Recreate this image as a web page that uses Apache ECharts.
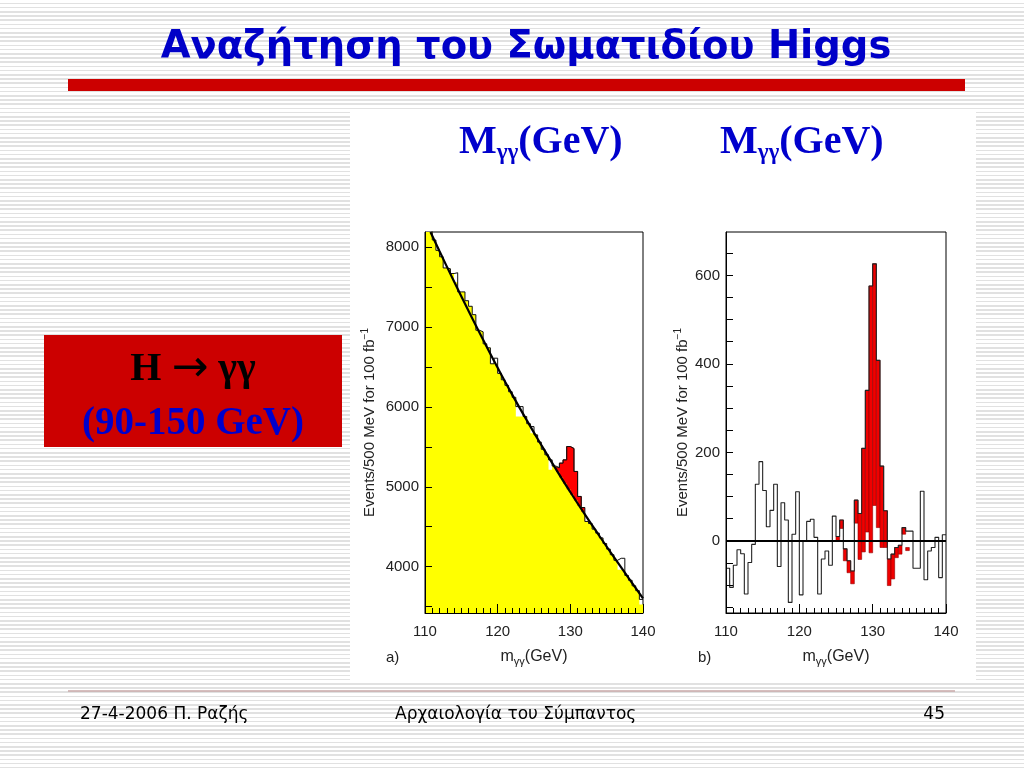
<!DOCTYPE html>
<html><head><meta charset="utf-8">
<script src="https://cdn.jsdelivr.net/npm/echarts@6/dist/echarts.min.js"></script>
<style>
html,body{margin:0;padding:0;width:1024px;height:768px;overflow:hidden;
background:repeating-linear-gradient(180deg,#ffffff 0px,#ffffff 2.7px,#e1e1e1 2.7px,#e1e1e1 4.2px);}
#panel{position:absolute;left:350px;top:110px;width:626px;height:570px;background:#fff;}
#c{position:absolute;left:0;top:0;width:1024px;height:768px;}
</style></head><body><div id="panel"></div><div id="c"></div>
<script>
// ---- shared binning (GeV) ----
const binStart = 110;
const binWidth = 0.5;
const xLabels = [110, 120, 130, 140];

// ---- panel a): diphoton mass spectrum, events / 500 MeV ----
const dataA = [8300, 8230, 8090, 7960, 7880, 7740, 7730, 7670, 7680, 7440,
               7440, 7330, 7260, 7155, 6960, 6940, 6790, 6740, 6540, 6610,
               6420, 6340, 6270, 6190, 6120, 6004, 6004, 5880, 5790, 5754,
               5650, 5560, 5470, 5400, 5337, 5260, 5240, 5296, 5337, 5504,
               5480, 5192, 4879, 4740, 4566, 4540, 4470, 4420, 4360, 4290,
               4220, 4150, 4080, 4105, 4105, 3890, 3830, 3760, 3700, 3590];
const bgA   = [8300, 8230, 8090, 7960, 7880, 7740, 7730, 7670, 7560, 7440,
               7440, 7330, 7260, 7155, 6960, 6940, 6790, 6740, 6540, 6540,
               6420, 6340, 6270, 6190, 6120, 5880, 5880, 5880, 5790, 5670,
               5650, 5560, 5470, 5400, 5212, 5260, 5188, 5115, 5042, 4970,
               4899, 4829, 4759, 4689, 4566, 4540, 4470, 4420, 4360, 4290,
               4220, 4150, 4080, 3960, 3960, 3890, 3830, 3760, 3700, 3525];
const signalFromA = 128.0;   // first bin of the red signal excess
const signalToA = 132.0;     // end of the red signal excess
const fitXA = [110.75, 112, 114, 116, 118, 120, 122, 124, 126, 128, 130, 132, 134, 136, 138, 140];
const fitYA = [8190, 7950, 7570, 7200, 6840, 6490, 6154, 5834, 5524, 5224, 4934, 4654, 4384, 4120, 3860, 3604];
const yTicksA = [3500, 4000, 4500, 5000, 5500, 6000, 6500, 7000, 7500, 8000];
const yLabelsA = [4000, 5000, 6000, 7000, 8000];

// ---- panel b): background-subtracted spectrum ----
const dataB = [-62, -105, -55, -20, -29, -120, -49, -8, 128, 179,
               114, 32, 69, 128, -58, 86, 47, -139, 15, 111,
               -122, 0, 44, 49, 8, -120, -41, -23, -55, 56,
               10, 47, -18, -45, -68, 92, 62, 209, 340, 576,
               626, 408, 169, 68, -41, -30, -15, -10, 30, 22,
               22, -62, -62, 112, -88, -23, -15, 8, -83, 14];
const redFromB = 125.0;
const redHighB = [10, 47, -18, -45, -68, 92, 62, 209, 340, 576, 626, 408, 169, 68, -41, -30, -15, -10, 30, -15];
const redLowB  = [0, 28, -45, -72, -97, 40, -42, -25, 20, -27, 80, 30, -15, -15, -101, -86, -38, -30, 15, -22];
const fitLevelB = 0;
const yTicksB = [-150, -100, -50, 0, 50, 100, 150, 200, 250, 300, 350, 400, 450, 500, 550, 600, 650];
const yLabelsB = [0, 200, 400, 600];

// ---- helpers: histogram as step polyline through bin edges ----
function steps(vals, start) {
  const pts = vals.map((v, i) => [start + i * binWidth, v]);
  pts.push([start + vals.length * binWidth, vals[vals.length - 1]]);
  return pts;
}
const sigValsA = dataA.filter((v, i) => {
  const x = binStart + i * binWidth; return x >= signalFromA && x < signalToA;
});
const redDataB = redHighB.map((h, i) => [redFromB + i * binWidth, redLowB[i], h]);

const FONT = 'Liberation Sans';
const txt = '#222';

function xAxisCfg(gi) {
  return {
    type: 'value', gridIndex: gi, min: 110, max: 140, interval: 10, z: 10,
    name: 'm{s|γγ}(GeV)', nameLocation: 'middle', nameGap: 34,
    nameTextStyle: { fontSize: 16, color: txt, fontFamily: FONT,
      rich: { s: { fontSize: 11, color: txt, fontFamily: FONT, padding: [9, 0, 0, 0] } } },
    axisLine: { show: true, onZero: false, lineStyle: { color: '#000', width: 1 } },
    axisTick: { show: true, inside: true, length: 9, lineStyle: { color: '#000' } },
    minorTick: { show: true, splitNumber: 10, length: 5, lineStyle: { color: '#000' } },
    splitLine: { show: false },
    axisLabel: { color: txt, fontSize: 15, fontFamily: FONT, margin: 11,
      showMinLabel: true, showMaxLabel: true,
      formatter: v => (xLabels.indexOf(v) >= 0 ? String(v) : '') }
  };
}
function yAxisCfg(gi, min, max, ticks, labels, gap) {
  return {
    type: 'value', gridIndex: gi, min: min, max: max, z: 10,
    name: 'Events/500 MeV for 100 fb{u|−1}', nameLocation: 'middle', nameRotate: 90, nameGap: gap,
    nameTextStyle: { fontSize: 15, color: txt, fontFamily: FONT,
      rich: { u: { fontSize: 10, color: txt, fontFamily: FONT, padding: [0, 0, 9, 0] } } },
    axisLine: { show: true, onZero: false, lineStyle: { color: '#000', width: 1 } },
    axisTick: { show: true, inside: true, length: 7, customValues: ticks, lineStyle: { color: '#000' } },
    splitLine: { show: false },
    axisLabel: { color: txt, fontSize: 15, fontFamily: FONT, margin: 6, customValues: labels,
      formatter: v => String(v) }
  };
}

const chart = echarts.init(document.getElementById('c'), null, { renderer: 'canvas' });
chart.setOption({
  animation: false,
  backgroundColor: 'transparent',
  grid: [
    { left: 425, top: 232, width: 218, height: 381, show: true, backgroundColor: '#fff', borderColor: '#000', borderWidth: 1 },
    { left: 726, top: 232, width: 220, height: 381, show: true, backgroundColor: '#fff', borderColor: '#000', borderWidth: 1 }
  ],
  xAxis: [xAxisCfg(0), xAxisCfg(1)],
  yAxis: [
    yAxisCfg(0, 3420, 8190, yTicksA, yLabelsA, 46),
    yAxisCfg(1, -163, 698, yTicksB, yLabelsB, 34)
  ],
  series: [
    { type: 'line', name: 'signal a', xAxisIndex: 0, yAxisIndex: 0, step: 'end', z: 1,
      symbol: 'none', data: steps(sigValsA, signalFromA),
      lineStyle: { color: '#7a0000', width: 1 }, areaStyle: { color: '#ff0000', opacity: 1, origin: 'start' } },
    { type: 'line', name: 'background a', xAxisIndex: 0, yAxisIndex: 0, step: 'end', z: 2,
      symbol: 'none', data: steps(bgA, binStart),
      lineStyle: { width: 0, opacity: 0 }, areaStyle: { color: '#ffff00', opacity: 1, origin: 'start' } },
    { type: 'line', name: 'data a', xAxisIndex: 0, yAxisIndex: 0, step: 'end', z: 3,
      symbol: 'none', data: steps(dataA, binStart),
      lineStyle: { color: '#111', width: 1 } },
    { type: 'line', name: 'fit a', xAxisIndex: 0, yAxisIndex: 0, smooth: true, z: 4,
      symbol: 'none', data: fitXA.map((x, i) => [x, fitYA[i]]),
      lineStyle: { color: '#000', width: 2.2 } },
    { type: 'custom', name: 'signal b', xAxisIndex: 1, yAxisIndex: 1, z: 2,
      data: redDataB, encode: { x: 0, y: [1, 2] },
      renderItem: function (params, api) {
        const x0 = api.value(0), lo = api.value(1), hi = api.value(2);
        const p1 = api.coord([x0, hi]);
        const p2 = api.coord([x0 + binWidth, lo]);
        return { type: 'rect', shape: { x: p1[0], y: p1[1], width: p2[0] - p1[0], height: p2[1] - p1[1] },
          style: { fill: '#f00000', stroke: '#900000', lineWidth: 0.6 } };
      } },
    { type: 'line', name: 'data b', xAxisIndex: 1, yAxisIndex: 1, step: 'end', z: 3,
      symbol: 'none', data: steps(dataB, binStart),
      lineStyle: { color: '#222', width: 1.1 },
      markLine: { silent: true, symbol: 'none', label: { show: false },
        lineStyle: { color: '#000', width: 2.2, type: 'solid' }, data: [{ yAxis: fitLevelB }] } }
  ],
  graphic: [
    { type: 'text', x: 526, y: 48, style: { text: 'Αναζήτηση του Σωματιδίου Higgs', font: 'bold 38.5px "DejaVu Sans"', fill: '#0000c8', align: 'center', verticalAlign: 'middle' } },
    { type: 'rect', shape: { x: 68, y: 79, width: 897, height: 12 }, style: { fill: '#cc0000' } },
    { type: 'text', x: 459, y: 143, style: { text: 'M{s|γγ}(GeV)', font: 'bold 40px "Liberation Serif"', fill: '#0000cc', align: 'left', verticalAlign: 'middle',
      rich: { s: { fontSize: 23, fontWeight: 'bold', fontFamily: 'Liberation Serif', fill: '#0000cc', padding: [20, 0, 0, 0] } } } },
    { type: 'text', x: 720, y: 143, style: { text: 'M{s|γγ}(GeV)', font: 'bold 40px "Liberation Serif"', fill: '#0000cc', align: 'left', verticalAlign: 'middle',
      rich: { s: { fontSize: 23, fontWeight: 'bold', fontFamily: 'Liberation Serif', fill: '#0000cc', padding: [20, 0, 0, 0] } } } },
    { type: 'rect', shape: { x: 44, y: 335, width: 298, height: 112 }, style: { fill: '#cc0000' } },
    { type: 'text', x: 193, y: 370, style: { text: 'H {a|→} γγ', font: 'bold 40px "Liberation Serif"', fill: '#000', align: 'center', verticalAlign: 'middle',
      rich: { a: { fontSize: 44, fontFamily: 'DejaVu Sans', fontWeight: 'normal', fill: '#000' } } } },
    { type: 'text', x: 193, y: 424, style: { text: '(90-150 GeV)', font: 'bold 39px "Liberation Serif"', fill: '#0000cc', align: 'center', verticalAlign: 'middle' } },
    { type: 'text', x: 386, y: 658, style: { text: 'a)', font: '15px "Liberation Sans"', fill: txt, align: 'left', verticalAlign: 'middle' } },
    { type: 'text', x: 698, y: 658, style: { text: 'b)', font: '15px "Liberation Sans"', fill: txt, align: 'left', verticalAlign: 'middle' } },
    { type: 'line', shape: { x1: 68, y1: 691, x2: 955, y2: 691 }, style: { stroke: '#c8a8a8', lineWidth: 1.5 } },
    { type: 'text', x: 80, y: 715, style: { text: '27-4-2006 Π. Ραζής', font: '17px "DejaVu Sans"', fill: '#000', align: 'left', verticalAlign: 'middle' } },
    { type: 'text', x: 395, y: 715, style: { text: 'Αρχαιολογία του Σύμπαντος', font: '17px "DejaVu Sans"', fill: '#000', align: 'left', verticalAlign: 'middle' } },
    { type: 'text', x: 945, y: 715, style: { text: '45', font: '17px "DejaVu Sans"', fill: '#000', align: 'right', verticalAlign: 'middle' } }
  ]
});
</script></body></html>
